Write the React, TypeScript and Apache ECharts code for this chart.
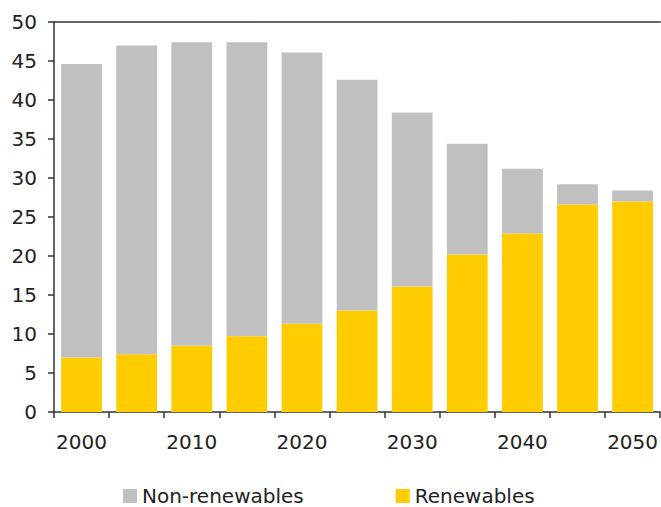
import React, { useEffect, useRef } from "react";
import * as echarts from "echarts";

const categories = ["2000", "2005", "2010", "2015", "2020", "2025", "2030", "2035", "2040", "2045", "2050"];
const renewables = [7.0, 7.4, 8.5, 9.7, 11.3, 13.0, 16.1, 20.2, 22.9, 26.6, 27.0];
const nonRenewables = [37.6, 39.6, 38.9, 37.7, 34.8, 29.6, 22.3, 14.2, 8.3, 2.6, 1.4];
const yTicks = { min: 0, max: 50, interval: 5 };

const FONT = "DejaVu Sans, Verdana, sans-serif";

export default function App() {
  const ref = useRef<HTMLDivElement>(null);
  useEffect(() => {
    document.body.style.margin = "0";
    const chart = echarts.init(ref.current!, null, { renderer: "svg" });
    chart.setOption({
      animation: false,
      backgroundColor: "#ffffff",
      grid: { left: 54, right: 0, top: 22, bottom: 95, containLabel: false },
      legend: {
        data: ["Non-renewables", "Renewables"],
        left: 123,
        top: 486,
        padding: 0,
        icon: "rect",
        itemWidth: 14,
        itemHeight: 14,
        itemGap: 92,
        textStyle: { fontFamily: FONT, fontSize: 20, color: "#222" },
      },
      xAxis: [
        {
          type: "category",
          data: categories,
          axisLine: { lineStyle: { color: "#333", width: 1.5 } },
          axisTick: { show: true, interval: 0, length: 6, lineStyle: { color: "#333", width: 1.5 } },
          axisLabel: { interval: 1, margin: 20, fontFamily: FONT, fontSize: 20, color: "#222" },
        },
        {
          type: "category",
          position: "top",
          data: categories,
          axisLine: { show: true, lineStyle: { color: "#333", width: 1.5 } },
          axisTick: { show: false },
          axisLabel: { show: false },
        },
      ],
      yAxis: {
        type: "value",
        min: yTicks.min,
        max: yTicks.max,
        interval: yTicks.interval,
        axisLine: { show: true, lineStyle: { color: "#333", width: 1.5 } },
        axisTick: { show: true, length: 6, lineStyle: { color: "#333", width: 1.5 } },
        splitLine: { show: false },
        axisLabel: { margin: 17, fontFamily: FONT, fontSize: 20, color: "#222" },
      },
      series: [
        {
          name: "Renewables",
          type: "bar",
          stack: "total",
          data: renewables,
          barCategoryGap: "26%",
          itemStyle: { color: "#FFCC00" },
        },
        {
          name: "Non-renewables",
          type: "bar",
          stack: "total",
          data: nonRenewables,
          barCategoryGap: "26%",
          itemStyle: { color: "#C0C0C0" },
        },
      ],
    });
    return () => chart.dispose();
  }, []);
  return <div ref={ref} style={{ width: 661, height: 507 }} />;
}
